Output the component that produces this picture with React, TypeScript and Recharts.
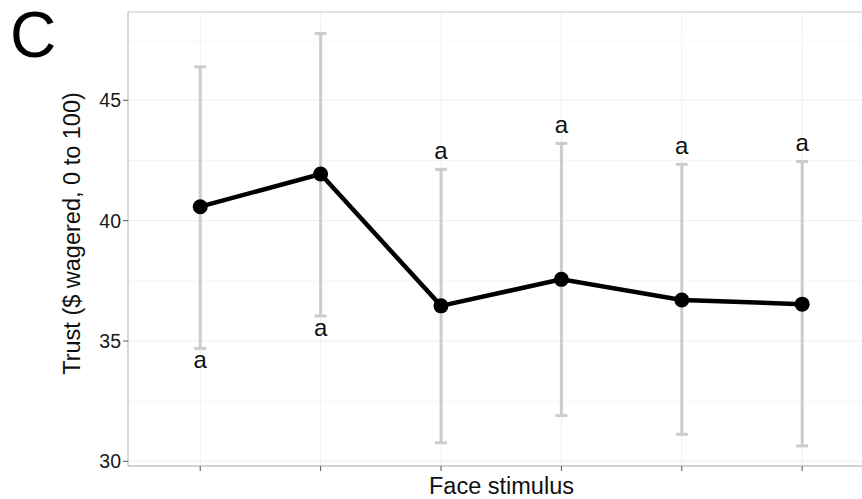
import {
  CartesianGrid,
  ErrorBar,
  LabelList,
  Line,
  LineChart,
  ReferenceLine,
  XAxis,
  YAxis,
} from "recharts";

const faces = [1, 2, 3, 4, 5, 6];
const means = [40.58, 41.94, 36.46, 37.56, 36.7, 36.53];
const upper = [46.39, 47.78, 42.13, 43.21, 42.34, 42.46];
const lower = [34.69, 36.04, 30.77, 31.9, 31.12, 30.64];
const letters = ["a", "a", "a", "a", "a", "a"];
const letterSide = ["below", "below", "above", "above", "above", "above"];

const yTicks = [30, 35, 40, 45];
const yMinor = [32.5, 37.5, 42.5, 47.5];
const Y_MIN = 29.805;
const Y_MAX = 48.67;
// panel is cut off by the right edge of the picture (would end at 6.6)
const X_MIN = 0.4;
const X_MAX = 6.497;

const data = faces.map((x, i) => ({
  x,
  mean: means[i],
  err: [means[i] - lower[i], upper[i] - means[i]],
  labelY: letterSide[i] === "below" ? lower[i] : upper[i],
  letter: letters[i],
}));

const FONT = "'Liberation Sans', Arial, Helvetica, sans-serif";

function LetterLabel(props: any) {
  const { x, y, value, index } = props;
  const below = letterSide[index] === "below";
  return (
    <text
      x={x}
      y={below ? y + 20 : y - 10}
      textAnchor="middle"
      fontSize={24}
      fontFamily={FONT}
      fill="#111"
    >
      {value}
    </text>
  );
}

export default function App() {
  return (
    <div
      style={{
        position: "fixed",
        left: 0,
        top: 0,
        width: 862,
        height: 499,
        background: "#fff",
      }}
    >
      <LineChart
        width={862}
        height={499}
        data={data}
        margin={{ top: 12, right: 0, bottom: 0, left: 0 }}
      >
        <CartesianGrid
          stroke="#f6f6f6"
          horizontalValues={yMinor}
          vertical={false}
        />
        <CartesianGrid
          stroke="#eeeeee"
          horizontalValues={yTicks}
          vertical={false}
        />
        {faces.map((f) => (
          <ReferenceLine key={f} x={f} stroke="#f0f0f0" strokeWidth={1} />
        ))}
        <XAxis
          dataKey="x"
          type="number"
          domain={[X_MIN, X_MAX]}
          ticks={faces}
          tickFormatter={() => ""}
          height={33}
          tickSize={5}
          stroke="#a8a8a8"
          tickLine={{ stroke: "#555" }}
          allowDataOverflow
        />
        <YAxis
          type="number"
          domain={[Y_MIN, Y_MAX]}
          ticks={yTicks}
          width={128}
          tickSize={5}
          tickMargin={2}
          stroke="#b0b0b0"
          tickLine={{ stroke: "#555" }}
          tick={{ fill: "#1a1a1a", fontSize: 19.5, fontFamily: FONT }}
          allowDataOverflow
        />
        <ReferenceLine y={Y_MAX} stroke="#d8d8d8" strokeWidth={1.5} />
        <Line
          dataKey="mean"
          stroke="none"
          dot={false}
          activeDot={false}
          isAnimationActive={false}
        >
          <ErrorBar
            dataKey="err"
            direction="y"
            width={6}
            strokeWidth={3}
            stroke="#cccccc"
          />
        </Line>
        <Line
          dataKey="labelY"
          stroke="none"
          dot={false}
          activeDot={false}
          isAnimationActive={false}
        >
          <LabelList dataKey="letter" content={LetterLabel} />
        </Line>
        <Line
          dataKey="mean"
          stroke="#000"
          strokeWidth={4.5}
          dot={{ r: 7.5, fill: "#000", stroke: "#000", strokeWidth: 0 }}
          activeDot={false}
          isAnimationActive={false}
        />
      </LineChart>
      <svg
        width={862}
        height={499}
        style={{ position: "absolute", left: 0, top: 0, pointerEvents: "none" }}
      >
        <text x={10} y={56.5} fontSize={64} fontFamily={FONT} fill="#000">
          C
        </text>
        <text
          transform="translate(80, 233.5) rotate(-90)"
          textAnchor="middle"
          fontSize={23.5}
          fontFamily={FONT}
          fill="#111"
        >
          Trust ($ wagered, 0 to 100)
        </text>
        <text
          x={501.5}
          y={493.5}
          textAnchor="middle"
          fontSize={23.5}
          fontFamily={FONT}
          fill="#111"
        >
          Face stimulus
        </text>
      </svg>
    </div>
  );
}
